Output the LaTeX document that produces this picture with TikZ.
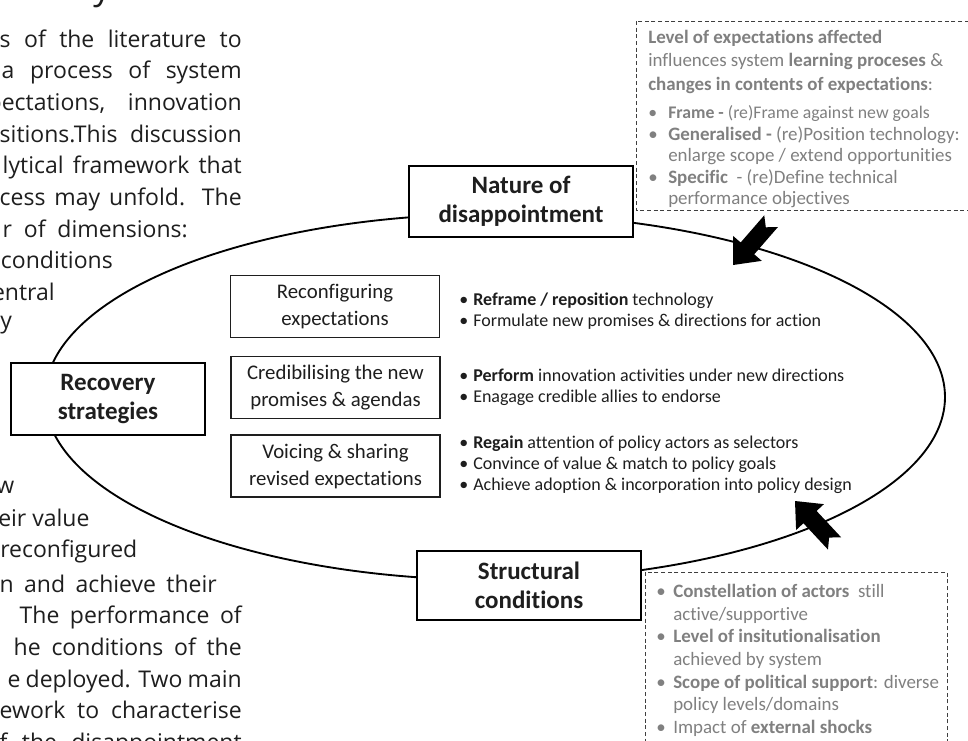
\documentclass[tikz,border=0pt]{standalone}
\usepackage{fontspec}
\setmainfont{Carlito}[Ligatures=CommonOff]
\newfontfamily\pagefont{Open Sans}
\usetikzlibrary{positioning}

\definecolor{notegrey}{HTML}{808080}
\definecolor{dashgrey}{HTML}{3F3F3F}
\definecolor{inkblack}{HTML}{1E1E1E}

\newcommand{\bul}[2][10.5pt]{\makebox[#1][l]{\textbullet}#2}
\newcommand{\cont}[2][10.5pt]{\hspace*{#1}#2}
\newcommand{\jline}[2]{\makebox[#1][s]{#2}}

\tikzset{
  mainbox/.style={draw=black, line width=1pt, fill=white, align=center, inner sep=0pt,
    text=inkblack, font=\fontsize{18.75}{21.75}\selectfont\bfseries},
  stratbox/.style={draw=inkblack, line width=0.8pt, fill=white, align=center, inner sep=0pt,
    minimum width=156.75pt, minimum height=46.5pt, text=inkblack,
    font=\fontsize{15.6}{20.25}\selectfont},
  actions/.style={anchor=west, align=left, inner sep=0pt, text=inkblack,
    font=\fontsize{13.5}{15.75}\selectfont},
  notebox/.style={draw=dashgrey, line width=0.7pt, dash pattern=on 3pt off 2pt},
  notetext/.style={anchor=north west, align=left, inner sep=0pt, text=notegrey,
    font=\fontsize{13.3}{17.5}\selectfont},
  pagetext/.style={inner sep=0pt, text=inkblack, font=\pagefont\fontsize{17.25}{23}\selectfont},
  blockarrow/.style={fill=black}
}

\begin{document}
\begin{tikzpicture}[x=0.75pt, y=-0.75pt]
    \useasboundingbox (0,0) rectangle (968,740);
    \clip (0,0) rectangle (968,740);
    \fill[white] (0,0) rectangle (968,740);

    % page text round the figure
    \node[pagetext, anchor=base west, font=\pagefont\fontsize{26}{30}\selectfont] (l0) at (93,-1) {y};
    \node[pagetext, anchor=base east] (l1) at (242,47) {\jline{181.5pt}{s of the literature to}};
    \node[pagetext, anchor=base east] (l2) at (242,78) {\jline{180pt}{a process of system}};
    \node[pagetext, anchor=base east] (l3) at (242,110) {\jline{190.5pt}{pectations, innovation}};
    \node[pagetext, anchor=base east] (l4) at (242,142) {\jline{181.5pt}{sitions.This discussion}};
    \node[pagetext, anchor=base east] (l5) at (242,173) {\jline{179.25pt}{lytical framework that}};
    \node[pagetext, anchor=base east] (l6) at (242,205) {\jline{181.5pt}{cess may unfold. The}};
    \node[pagetext, anchor=base east] (l7) at (188,237) {\jline{138.75pt}{r of dimensions:}};
    \node[pagetext, anchor=base east] (l8) at (113,268) {conditions};
    \node[pagetext, anchor=base east] (l9) at (55,300) {entral};
    \node[pagetext, anchor=base west] (l10) at (0,328) {y};
    \node[pagetext, anchor=base west] (l11) at (-4,493) {w};
    \node[pagetext, anchor=base west] (l12) at (-2,526) {eir value};
    \node[pagetext, anchor=base west] (l13) at (0,557) {reconfigured};
    \node[pagetext, anchor=base east] (l14) at (217,592) {\jline{162.75pt}{n and achieve their}};
    \node[pagetext, anchor=base east] (l15) at (242,623) {\jline{166.5pt}{The performance of}};
    \node[pagetext, anchor=base east] (l16) at (242,655) {\jline{171pt}{he conditions of the}};
    \node[pagetext, anchor=base east] (l17) at (242,687) {\jline{175.5pt}{e deployed. Two main}};
    \node[pagetext, anchor=base east] (l18) at (242,718) {\jline{181.5pt}{ework to characterise}};
    \node[pagetext, anchor=base east] (l19) at (242,750) {\jline{181.5pt}{f the disappointment}};

    % cycle
    \draw[line width=1.4pt] (495,397) ellipse [x radius=337.5pt, y radius=137.25pt];

    \node[mainbox, minimum width=168pt, minimum height=53.25pt] (nature) at (521,201.5) {Nature of\\disappointment};
    \node[mainbox, minimum width=145.5pt, minimum height=54pt] (recovery) at (108,399) {Recovery\\strategies};
    \node[mainbox, minimum width=168pt, minimum height=51.75pt] (structural) at (529,585.5) {Structural\\conditions};

    \node[stratbox] (reconf) at (335,306.5) {Reconfiguring\\expectations};
    \node[stratbox] (credib) at (335.5,387.5) {Credibilising the new\\promises \& agendas};
    \node[stratbox] (voicing) at (335.5,466) {Voicing \& sharing\\revised expectations};

    \node[actions] (reconfact) at (459,311.5) {\bul{\textbf{Reframe / reposition} technology}\\
      \bul{Formulate new promises \& directions for action}};
    \node[actions] (credibact) at (459,387) {\bul{\textbf{Perform} innovation activities under new directions}\\
      \bul{Enagage credible allies to endorse}};
    \node[actions] (voicingact) at (459,464.5) {\bul{\textbf{Regain} attention of policy actors as selectors}\\
      \bul{Convince of value \& match to policy goals}\\
      \bul{Achieve adoption \& incorporation into policy design}};

    % notes
    \draw[notebox] (636,21) rectangle (980,210);
    \node[notetext, font=\fontsize{14.2}{17.5}\selectfont] (naturenote) at (648,30) {\textbf{Level of expectations affected}\\
      influences system \textbf{learning proceses} \&\\
      \textbf{changes in contents of expectations}:\\[4pt]
      \fontsize{13.3}{16}\selectfont
      \bul[15pt]{\textbf{Frame -} (re)Frame against new goals}\\[-1.4pt]
      \bul[15pt]{\textbf{Generalised -} (re)Position technology:}\\[-1.4pt]
      \cont[15pt]{enlarge scope / extend opportunities}\\[-1.4pt]
      \bul[15pt]{\textbf{Specific} \ - (re)Define technical}\\[-1.4pt]
      \cont[15pt]{performance objectives}};

    \draw[notebox] (645,572) rectangle (947,760);
    \node[notetext, font=\fontsize{14.2}{17}\selectfont] (structnote) at (656,584) {\bul[12.75pt]{\textbf{Constellation of actors} \ still}\\
      \cont[12.75pt]{active/supportive}\\
      \bul[12.75pt]{\textbf{Level of insitutionalisation}}\\
      \cont[12.75pt]{achieved by system}\\
      \bul[12.75pt]{\textbf{Scope of political support}: diverse}\\
      \cont[12.75pt]{policy levels/domains}\\
      \bul[12.75pt]{Impact of \textbf{external shocks}}};

    % block arrows onto the cycle
    \begin{scope}[shift={(733,265)}, rotate=49]
      \fill[blockarrow] (0,0) -- (22,19) -- (22,9) -- (58,9) -- (50,0) -- (58,-9) -- (22,-9) -- (22,-19) -- cycle;
    \end{scope}
    \begin{scope}[shift={(795,501)}, rotate=-47]
      \fill[blockarrow] (0,0) -- (22,19) -- (22,9) -- (58,9) -- (50,0) -- (58,-9) -- (22,-9) -- (22,-19) -- cycle;
    \end{scope}
\end{tikzpicture}
\end{document}
